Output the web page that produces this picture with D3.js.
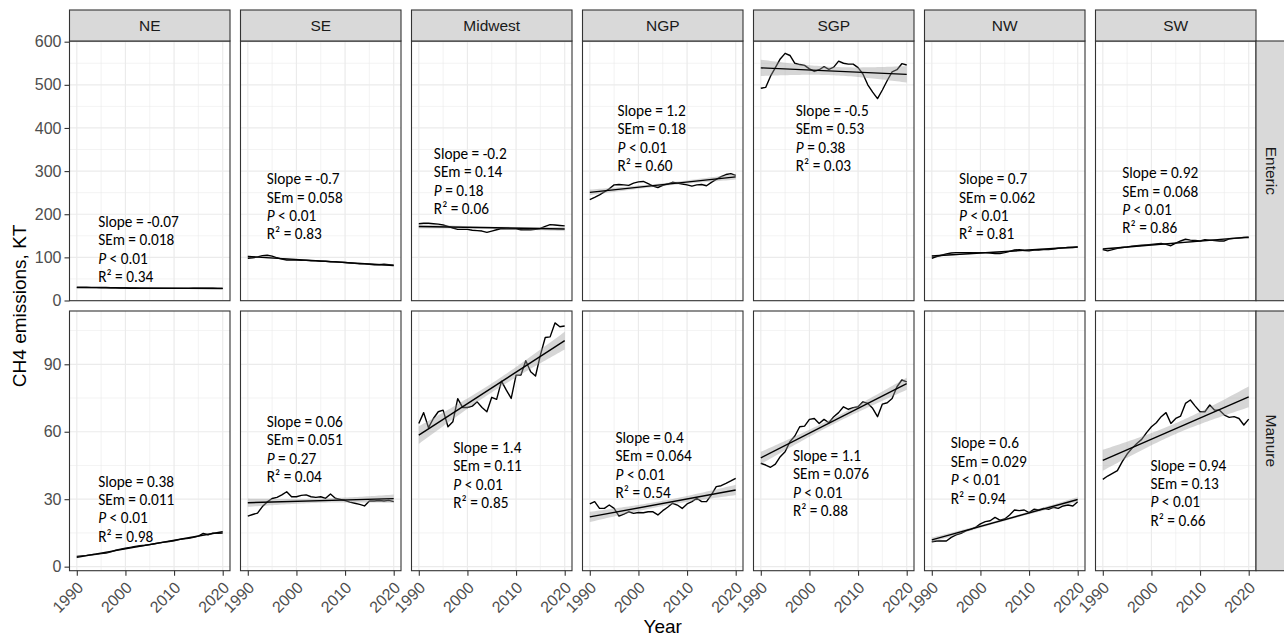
<!DOCTYPE html>
<html>
<head>
<meta charset="utf-8">
<script src="https://cdn.jsdelivr.net/npm/d3@7"></script>
<style>
  body { margin: 0; background: #fff; }
  svg { display: block; }
</style>
</head>
<body>
<svg id="chart" width="1284" height="637"></svg>
<script>
// ---- Data: annual CH4 emissions (KT) by region, 1990-2020 ----
const years = d3.range(1990, 2021);
const regions = ["NE", "SE", "Midwest", "NGP", "SGP", "NW", "SW"];
const sources = ["Enteric", "Manure"];

// Enteric fermentation
const entericNE = [31,31,31,30.5,30.5,30,30,29.5,29.5,29,29,28.5,28.5,28,28,28,28,28,28,28,28,28,28,28,28.5,28.5,28.5,28.5,28.5,28,28];
const entericSE = [98,99,101,104,105,103,99,96,94,94,94,93,93,92,92,91,91,90,90,89,88,87,86,85,85,84,83,83,84,83,82];
const entericMidwest = [178,179,179,178,177,175,172,168,165,165,165,163,162,161,158,161,164,167,166,166,166,164,164,164,165,167,172,176,175,174,173];
const entericNGP = [234,239,245,252,259,268,269,268,267,272,275,276,271,265,262,267,270,274,272,270,268,265,268,269,266,274,281,287,292,294,290];
const entericSGP = [492,494,520,540,560,573,568,550,547,545,537,531,535,542,536,541,555,550,548,548,540,525,500,483,468,488,510,530,535,549,546];
const entericNW = [98,102,105,108,110,111,111,111,111,111,111,111,110,109,109,111,114,117,118,116,115,117,117,118,118,119,121,122,123,123,124];
const entericSW = [118,115,118,121,123,124,126,127,128,129,130,131,132,130,127,133,138,142,140,139,138,141,140,139,138,138,143,144,145,146,146];

// Manure management
const manureNE = [4.5,4.8,5.0,5.3,5.5,5.8,6.0,6.6,7.3,7.8,8.2,8.6,9.0,9.3,9.5,9.8,10.2,10.6,10.9,11.2,11.5,12.0,12.4,12.6,13.0,13.6,14.8,14.2,14.9,14.8,14.9];
const manureSE = [22.5,23.2,23.8,26.7,28.8,30.3,30.8,31.9,33.3,31.1,31.1,31.7,31.9,31.1,30.8,31.1,30.4,32.3,30.4,29.9,29.4,28.7,28.2,27.7,27.0,29.2,29.2,29.4,29.2,29.5,28.9];
const manureMidwest = [63.7,68.5,61.8,65.9,68.9,69.6,62.2,64.4,74.7,70.8,70.8,71.4,73.3,70.8,68.9,75.3,74.4,82.5,78.5,74.8,85.2,85.2,91.6,86.7,84.8,94.1,101.9,102.2,108.4,106.7,107.0];
const manureNGP = [27.9,28.9,25.9,25.9,27.4,25.9,22.5,23.4,24.4,23.7,24.1,24.0,24.4,24.4,23.0,24.9,26.4,28.2,27.4,25.9,27.9,28.9,30.4,28.9,28.9,31.9,35.6,36.0,37.0,38.1,39.3];
const manureSGP = [46.0,45.2,44.2,45.6,48.9,51.1,55.6,58.1,62.2,62.5,65.5,65.9,63.7,65.5,64.0,66.7,68.5,71.1,70.0,70.7,71.1,73.3,72.6,70.4,66.7,72.3,72.9,74.8,80.0,83.0,82.2];
const manureNW = [11.1,11.4,11.4,11.4,13.0,14.1,14.8,15.9,16.6,17.5,19.0,20.0,20.4,21.9,20.7,21.2,23.0,25.2,24.9,25.2,24.0,25.5,25.2,25.9,25.5,26.4,25.9,27.0,27.4,27.0,28.9];
const manureSW = [38.8,40.3,41.5,42.7,46.7,50.1,52.6,54.8,56.6,59.6,62.2,64.0,66.7,68.5,63.7,65.9,67.0,72.6,74.1,71.4,68.9,68.9,71.9,69.6,69.6,67.4,66.4,66.7,65.9,63.0,65.6];

// Regression statistics (per region, in region order)
const entericSlope = ["-0.07", "-0.7", "-0.2", "1.2", "-0.5", "0.7", "0.92"];
const entericSEm   = ["0.018", "0.058", "0.14", "0.18", "0.53", "0.062", "0.068"];
const entericP     = ["< 0.01", "< 0.01", "= 0.18", "< 0.01", "= 0.38", "< 0.01", "< 0.01"];
const entericR2    = ["0.34", "0.83", "0.06", "0.60", "0.03", "0.81", "0.86"];
const manureSlope  = ["0.38", "0.06", "1.4", "0.4", "1.1", "0.6", "0.94"];
const manureSEm    = ["0.011", "0.051", "0.11", "0.064", "0.076", "0.029", "0.13"];
const manureP      = ["< 0.01", "= 0.27", "< 0.01", "< 0.01", "< 0.01", "< 0.01", "< 0.01"];
const manureR2     = ["0.98", "0.04", "0.85", "0.54", "0.88", "0.94", "0.66"];

// Where each statistics block sits, in data units [year, value]
const entericLabelAt = [[1994.4,182],[1993.9,281],[1993.1,340],[1995.7,440],[1997.2,440],[1995.6,281],[1994.0,295]];
const manureLabelAt  = [[1994.4,37.8],[1993.9,64.4],[1997.1,52.9],[1995.3,57.3],[1996.6,49.3],[1993.9,54.8],[1999.8,44.9]];

// Tick values
const xTicks = [1990, 2000, 2010, 2020];
const xMinor = [1995, 2005, 2015];
const entericTicks = [0, 100, 200, 300, 400, 500, 600];
const entericMinor = [50, 150, 250, 350, 450, 550];
const manureTicks = [0, 30, 60, 90];
const manureMinor = [15, 45, 75, 105];

const series = {
  Enteric: [entericNE, entericSE, entericMidwest, entericNGP, entericSGP, entericNW, entericSW],
  Manure:  [manureNE, manureSE, manureMidwest, manureNGP, manureSGP, manureNW, manureSW]
};
const stats = {
  Enteric: { slope: entericSlope, sem: entericSEm, p: entericP, r2: entericR2, at: entericLabelAt },
  Manure:  { slope: manureSlope,  sem: manureSEm,  p: manureP,  r2: manureR2,  at: manureLabelAt }
};

// ---- Layout ----
const svg = d3.select("#chart");
const panelW = 160.5, panelStep = 171, left0 = 69.5;
const stripTop = 10, stripH = 31;
const rowsCfg = {
  Enteric: { top: 41, bottom: 300.7, domain: [-0.46, 601.6], ticks: entericTicks, minor: entericMinor },
  Manure:  { top: 311, bottom: 570.7, domain: [-1.8, 113.7], ticks: manureTicks, minor: manureMinor }
};
const axisFont = "'Liberation Sans', Arial, Helvetica, sans-serif";
const noteFont = "Carlito, Calibri, Lato, sans-serif";
const gridCol = "#EBEBEB", borderCol = "#333333", tickTextCol = "#4D4D4D";
const tCrit = 2.045; // t(0.975, df = 29)

svg.append("rect").attr("width", 1284).attr("height", 637).attr("fill", "#fff");

const defs = svg.append("defs");

sources.forEach((src, ri) => {
  const cfg = rowsCfg[src];
  const y = d3.scaleLinear().domain(cfg.domain).range([cfg.bottom, cfg.top]);

  regions.forEach((reg, ci) => {
    const px = left0 + ci * panelStep;
    const x = d3.scaleLinear().domain([1988.5, 2021.5]).range([px, px + panelW]);
    const g = svg.append("g");
    const clipId = `clip-${ri}-${ci}`;
    defs.append("clipPath").attr("id", clipId)
      .append("rect").attr("x", px).attr("y", cfg.top).attr("width", panelW).attr("height", cfg.bottom - cfg.top);

    // grid
    const grid = g.append("g");
    grid.selectAll(".hmin").data(cfg.minor).join("line")
      .attr("x1", px).attr("x2", px + panelW).attr("y1", d => y(d)).attr("y2", d => y(d))
      .attr("stroke", gridCol).attr("stroke-width", 0.6);
    grid.selectAll(".vmin").data(xMinor).join("line")
      .attr("y1", cfg.top).attr("y2", cfg.bottom).attr("x1", d => x(d)).attr("x2", d => x(d))
      .attr("stroke", gridCol).attr("stroke-width", 0.6);
    grid.selectAll(".hmaj").data(cfg.ticks).join("line")
      .attr("x1", px).attr("x2", px + panelW).attr("y1", d => y(d)).attr("y2", d => y(d))
      .attr("stroke", gridCol).attr("stroke-width", 1.2);
    grid.selectAll(".vmaj").data(xTicks).join("line")
      .attr("y1", cfg.top).attr("y2", cfg.bottom).attr("x1", d => x(d)).attr("x2", d => x(d))
      .attr("stroke", gridCol).attr("stroke-width", 1.2);

    const vals = series[src][ci];
    const pts = years.map((yr, i) => ({ year: yr, value: vals[i] }));
    const plot = g.append("g").attr("clip-path", `url(#${clipId})`);

    // observed series
    plot.append("path").datum(pts)
      .attr("fill", "none").attr("stroke", "#000").attr("stroke-width", 1.4)
      .attr("stroke-linejoin", "round")
      .attr("d", d3.line().x(d => x(d.year)).y(d => y(d.value)));

    // linear trend: stated slope through the series mean, 95% band from SEm
    const st = stats[src];
    const b = +st.slope[ci], se = +st.sem[ci];
    const xbar = d3.mean(years), ybar = d3.mean(vals);
    const sxx = d3.sum(years, yr => (yr - xbar) ** 2);
    const n = years.length;
    const fit = yr => ybar + b * (yr - xbar);
    const band = d3.range(1990, 2020.001, 0.5).map(yr => {
      const h = tCrit * se * Math.sqrt(sxx / n + (yr - xbar) ** 2);
      return { year: yr, lo: fit(yr) - h, hi: fit(yr) + h };
    });
    plot.append("path").datum(band)
      .attr("fill", "rgba(153,153,153,0.4)")
      .attr("d", d3.area().x(d => x(d.year)).y0(d => y(d.lo)).y1(d => y(d.hi)));
    plot.append("path").datum([1990, 2020])
      .attr("fill", "none").attr("stroke", "#000").attr("stroke-width", 1.4)
      .attr("d", d3.line().x(d => x(d)).y(d => y(fit(d))));

    // statistics block
    const [ax, ay] = st.at[ci];
    const tx = x(ax), ty = y(ay) + 5, lh = 18.4;
    const note = g.append("g").attr("font-family", noteFont).attr("font-size", 15.3).attr("fill", "#000");
    note.append("text").attr("x", tx).attr("y", ty).text(`Slope = ${st.slope[ci]}`);
    note.append("text").attr("x", tx).attr("y", ty + lh).text(`SEm = ${st.sem[ci]}`);
    const pt = note.append("text").attr("x", tx).attr("y", ty + 2 * lh);
    pt.append("tspan").attr("font-style", "italic").text("P");
    pt.append("tspan").text(` ${st.p[ci]}`);
    note.append("text").attr("x", tx).attr("y", ty + 3 * lh).text(`R² = ${st.r2[ci]}`);

    // panel border
    g.append("rect").attr("x", px).attr("y", cfg.top).attr("width", panelW).attr("height", cfg.bottom - cfg.top)
      .attr("fill", "none").attr("stroke", borderCol).attr("stroke-width", 1.1);

    // y axis on the first column
    if (ci === 0) {
      const ya = d3.axisLeft(y).tickValues(cfg.ticks).tickSize(5).tickPadding(3).tickFormat(d3.format("d"));
      const ag = svg.append("g").attr("transform", `translate(${px},0)`).call(ya);
      ag.select(".domain").remove();
      ag.selectAll(".tick line").attr("stroke", borderCol).attr("stroke-width", 1.1);
      ag.selectAll(".tick text").attr("font-family", axisFont).attr("font-size", 16).attr("fill", tickTextCol);
    }

    // x axis on the bottom row
    if (ri === 1) {
      const xa = d3.axisBottom(x).tickValues(xTicks).tickSize(5).tickFormat(d3.format("d"));
      const ag = svg.append("g").attr("transform", `translate(0,${cfg.bottom})`).call(xa);
      ag.select(".domain").remove();
      ag.selectAll(".tick line").attr("stroke", borderCol).attr("stroke-width", 1.1);
      ag.selectAll(".tick text")
        .attr("font-family", axisFont).attr("font-size", 16).attr("fill", tickTextCol)
        .attr("text-anchor", "end").attr("dy", null).attr("y", null)
        .attr("transform", "translate(7,18) rotate(-45)");
    }

    // column strip
    if (ri === 0) {
      svg.append("rect").attr("x", px).attr("y", stripTop).attr("width", panelW).attr("height", stripH)
        .attr("fill", "#D9D9D9").attr("stroke", borderCol).attr("stroke-width", 1.1);
      svg.append("text").attr("x", px + panelW / 2).attr("y", stripTop + stripH / 2)
        .attr("dy", "0.36em").attr("text-anchor", "middle")
        .attr("font-family", axisFont).attr("font-size", 15.5).attr("fill", "#1A1A1A").text(reg);
    }
  });

  // row strip
  const sx = left0 + 6 * panelStep + panelW;
  svg.append("rect").attr("x", sx).attr("y", cfg.top).attr("width", 31).attr("height", cfg.bottom - cfg.top)
    .attr("fill", "#D9D9D9").attr("stroke", borderCol).attr("stroke-width", 1.1);
  svg.append("text")
    .attr("transform", `translate(${sx + 15.5},${(cfg.top + cfg.bottom) / 2}) rotate(90)`)
    .attr("dy", "0.36em").attr("text-anchor", "middle")
    .attr("font-family", axisFont).attr("font-size", 15.5).attr("fill", "#1A1A1A").text(src);
});

// axis titles
svg.append("text")
  .attr("transform", `translate(26,${(41 + 570.7) / 2}) rotate(-90)`)
  .attr("text-anchor", "middle").attr("font-family", axisFont).attr("font-size", 19).attr("fill", "#000")
  .text("CH4 emissions, KT");
svg.append("text")
  .attr("x", (left0 + left0 + 6 * panelStep + panelW) / 2).attr("y", 633)
  .attr("text-anchor", "middle").attr("font-family", axisFont).attr("font-size", 19).attr("fill", "#000")
  .text("Year");
</script>
</body>
</html>
